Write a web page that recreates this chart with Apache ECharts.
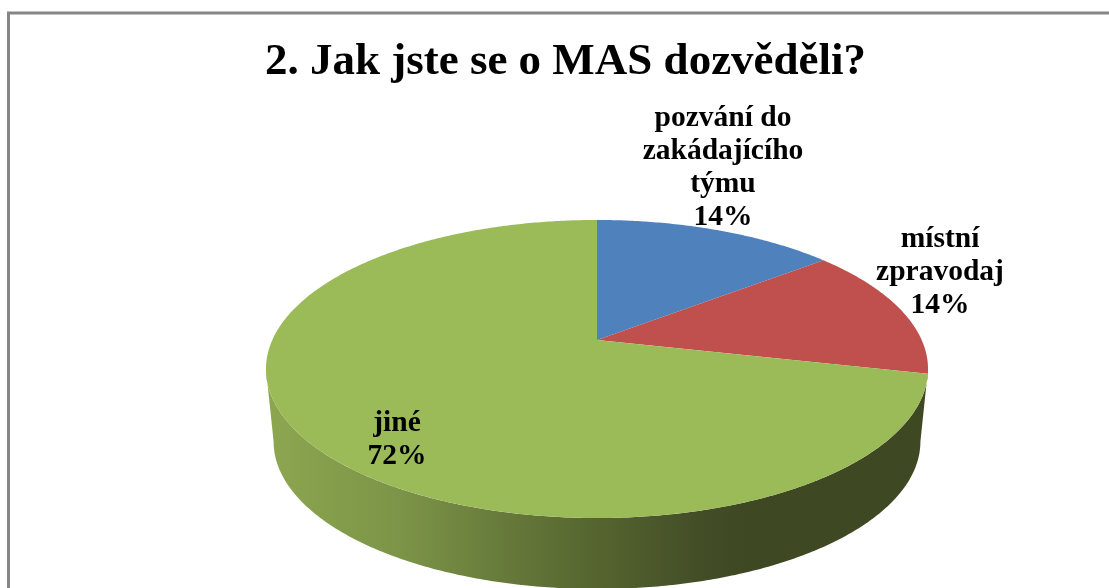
<!DOCTYPE html>
<html>
<head>
<meta charset="utf-8">
<script src="https://cdn.jsdelivr.net/npm/echarts@6/dist/echarts.min.js"></script>
<style>html,body{margin:0;padding:0;background:#fff}#c{width:1109px;height:588px}</style>
</head>
<body>
<div id="c"></div>
<script>
const titleText = '2. Jak jste se o MAS dozvěděli?';
const categories = ['pozvání do\nzakádajícího\ntýmu', 'místní\nzpravodaj', 'jiné'];
const values = [14.3, 14.3, 71.4];
const percentLabels = ['14%', '14%', '72%'];
const colors = ['#4f81bd', '#c0504d', '#9bbb59'];
const labelCenters = [[723, 168], [940, 272], [397, 440]];

// 3D pie projection of the unit disc
const view = { cx: 597, cy: 340, a: 324.7, b: 143.4, k: 0.1946, depth: 72.8, bottomA: 0.977, bottomB: 0.99 };
const total = values.reduce((s, v) => s + v, 0);
function project(theta, bottom) {
  const x = Math.sin(theta), y = -Math.cos(theta), w = 1 - view.k * y;
  return bottom
    ? [view.cx + view.a * view.bottomA * x / w, view.cy + view.depth + view.b * view.bottomB * y / w]
    : [view.cx + view.a * x / w, view.cy + view.b * y / w];
}
function arc(from, to, bottom) {
  const n = Math.max(2, Math.ceil(Math.abs(to - from) / 0.01)), pts = [];
  for (let i = 0; i <= n; i++) pts.push(project(from + (to - from) * i / n, bottom));
  return pts;
}
const wallStops = [
  [0, '#8ca650'], [0.2, '#7c9447'], [0.35, '#677b3b'], [0.5, '#55642f'],
  [0.65, '#434e27'], [0.72, '#3e4823'], [1, '#3e4823']
].map(s => ({ offset: s[0], color: s[1] }));

function renderItem(params, api) {
  const i = params.dataIndex;
  let start = 0;
  for (let j = 0; j < i; j++) start += values[j];
  const a0 = start / total * 2 * Math.PI, a1 = (start + api.value(1)) / total * 2 * Math.PI;
  const children = [];
  if (i === values.length - 1) {
    const edge = Math.acos(-view.k);
    const t0 = edge, t1 = 2 * Math.PI - edge;
    const wall = arc(t0, t1, false).concat(arc(t1, t0, true));
    children.push({
      type: 'polygon', z2: 1, shape: { points: wall },
      style: { fill: new echarts.graphic.LinearGradient(270, 0, 928, 0, wallStops, true) }
    });
  }
  children.push({
    type: 'polygon', z2: 2,
    shape: { points: [[view.cx, view.cy]].concat(arc(a0, a1, false)) },
    style: { fill: colors[i] }
  });
  children.push({
    type: 'text', z2: 5, x: labelCenters[i][0], y: labelCenters[i][1],
    style: {
      text: categories[i] + '\n' + percentLabels[i],
      font: 'bold 29.5px "Liberation Serif", serif',
      lineHeight: 33, fill: '#000', align: 'center', verticalAlign: 'middle'
    }
  });
  return { type: 'group', children };
}

const chart = echarts.init(document.getElementById('c'), null, { renderer: 'canvas' });
chart.setOption({
  animation: false,
  backgroundColor: '#ffffff',
  title: {
    text: titleText, left: 560.5, top: 35, textAlign: 'center',
    textStyle: { fontFamily: '"Liberation Serif", serif', fontWeight: 'bold', fontSize: 45, color: '#000' }
  },
  graphic: [{
    type: 'polyline', silent: true,
    shape: { points: [[8.5, 588], [8.5, 13], [1109, 13]] },
    style: { stroke: '#868686', lineWidth: 3, fill: null }
  }],
  series: [{
    type: 'custom', coordinateSystem: 'none', renderItem,
    data: values.map((v, i) => [i, v])
  }]
});
</script>
</body>
</html>
